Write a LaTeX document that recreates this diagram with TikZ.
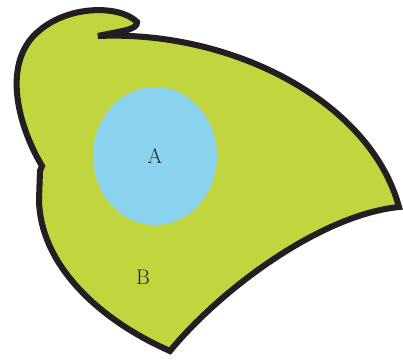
\documentclass[tikz,border=0pt]{standalone}
\usetikzlibrary{shapes.geometric}
\definecolor{leafGreen}{HTML}{C1D63E}
\definecolor{skyBlue}{HTML}{8AD3EF}
\definecolor{inkDark}{HTML}{231F20}

\begin{document}
\begin{tikzpicture}[
    x=0.025cm, y=-0.025cm,
    region/.style={draw=inkDark, fill=leafGreen, line width=4.3pt, line join=miter},
    subset/.style={ellipse, fill=skyBlue, minimum width=3.1cm, minimum height=3.45cm,
                   font=\fontsize{15}{18}\selectfont\color{inkDark}},
    tag/.style={font=\fontsize{15}{18}\selectfont\color{inkDark}},
  ]
    \useasboundingbox (0,0) rectangle (403,360);
    \draw[region] (98,36) .. controls (230,30) and (370,100) .. (399,207)
      .. controls (320,215) and (220,290) .. (170,351)
      .. controls (95,318) and (40,262) .. (39,200)
      -- (40,171) -- (42,166)
      .. controls (16,122) and (2,60) .. (40,30)
      .. controls (70,5) and (120,5) .. (137,22)
      .. controls (138,30) and (120,31) .. cycle;
    \node[subset] (setA) at (155,156) {A};
    \node[tag] (setB) at (143,277) {B};
\end{tikzpicture}
\end{document}
